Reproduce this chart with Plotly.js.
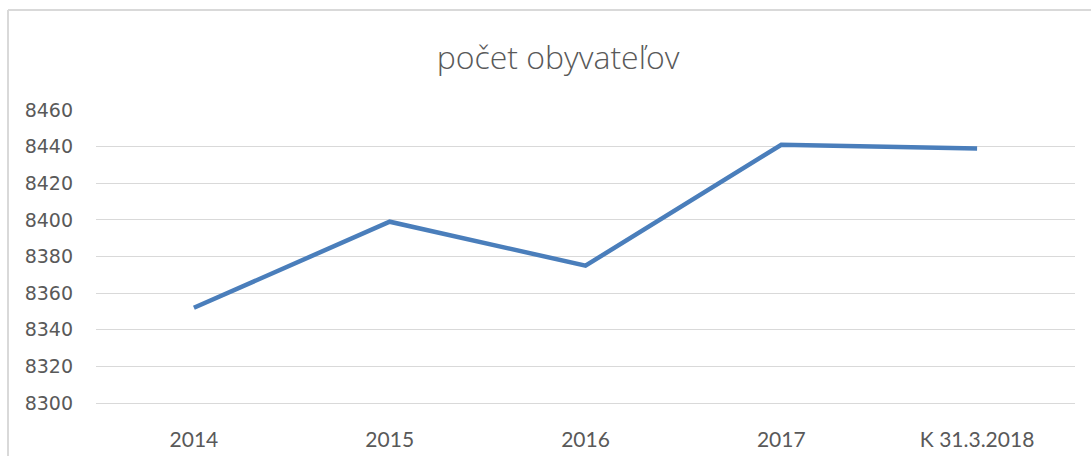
<!DOCTYPE html>
<html>
<head>
<meta charset="utf-8">
<script src="https://cdn.plot.ly/plotly-3.0.1.min.js"></script>
<style>
  html, body { margin: 0; padding: 0; background: #ffffff; }
  #chart { width: 1091px; height: 456px; }
</style>
</head>
<body>
<div id="chart"></div>
<script>
// Data
const categories = ["2014", "2015", "2016", "2017", "K 31.3.2018"];
const population = [8352, 8399, 8375, 8441, 8439];
const yTickValues = [8300, 8320, 8340, 8360, 8380, 8400, 8420, 8440, 8460];
const chartTitle = "počet obyvateľov";

const W = 1091, H = 456;
const mL = 96, mR = 16, mT = 110, mB = 53;
const plotW = W - mL - mR, plotH = H - mT - mB;
// frame (chart area border) in pixels
const frameX = 8, frameY = 10;
const fx = (frameX - mL) / plotW;
const fy = (H - mB - frameY) / plotH;

const trace = {
  type: "scatter",
  mode: "lines",
  x: categories,
  y: population,
  line: { color: "#4a7ebb", width: 4.5, shape: "linear" },
  hoverinfo: "x+y"
};

const layout = {
  width: W,
  height: H,
  margin: { l: mL, r: mR, t: mT, b: mB, pad: 0 },
  paper_bgcolor: "#ffffff",
  plot_bgcolor: "#ffffff",
  showlegend: false,
  title: {
    text: chartTitle,
    font: { family: "Open Sans", size: 32, color: "#595959", weight: 300 },
    x: 558 / W,
    xref: "container",
    xanchor: "center",
    y: 1 - 58 / H,
    yref: "container",
    yanchor: "middle"
  },
  xaxis: {
    type: "category",
    range: [-0.5, categories.length - 0.5],
    showgrid: false,
    zeroline: false,
    showline: true,
    linecolor: "#d9d9d9",
    linewidth: 1,
    ticks: "",
    ticklabelstandoff: 18,
    tickfont: { family: "Lato", size: 21, color: "#595959" },
    fixedrange: true
  },
  yaxis: {
    range: [8300, 8460],
    tickvals: yTickValues,
    ticktext: yTickValues.map(String),
    showgrid: true,
    gridcolor: "#d9d9d9",
    gridwidth: 1,
    zeroline: false,
    showline: false,
    ticks: "",
    ticklabelstandoff: 22,
    tickfont: { family: "DejaVu Sans", size: 19, color: "#595959" },
    fixedrange: true
  },
  shapes: [
    { type: "line", xref: "paper", yref: "paper", x0: fx, x1: fx, y0: fy, y1: -1, line: { color: "#d9d9d9", width: 2 } },
    { type: "line", xref: "paper", yref: "paper", x0: fx, x1: 2, y0: fy, y1: fy, line: { color: "#d9d9d9", width: 2 } }
  ]
};

Plotly.newPlot("chart", [trace], layout, { displayModeBar: false, staticPlot: true });
</script>
</body>
</html>
